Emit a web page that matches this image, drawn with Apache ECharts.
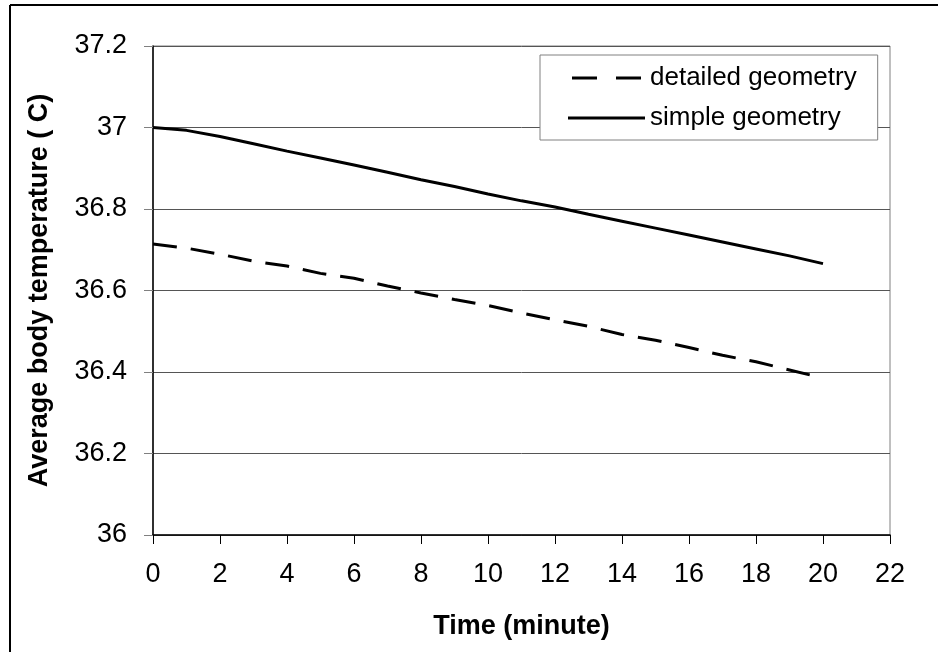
<!DOCTYPE html>
<html>
<head>
<meta charset="utf-8">
<script src="https://cdn.jsdelivr.net/npm/echarts@6/dist/echarts.min.js"></script>
<style>
    html, body { margin: 0; padding: 0; background: #fff; }
    #chartLine { width: 938px; height: 652px; }
</style>
</head>
<body>
<div id="chartLine"></div>
<script>
    // minutes
    var time = [0, 1, 2, 3, 4, 5, 6, 7, 8, 9, 10, 11, 12, 13, 14, 15, 16, 17, 18, 19, 20]
    var detailed = [36.714, 36.704, 36.689, 36.672, 36.66, 36.642, 36.63, 36.611, 36.594, 36.578, 36.563,
        36.545, 36.528, 36.512, 36.492, 36.478, 36.46, 36.441, 36.425, 36.405, 36.385]
    var simple = [37.0, 36.993, 36.978, 36.96, 36.942, 36.925, 36.908, 36.89, 36.872, 36.855, 36.837,
        36.82, 36.805, 36.787, 36.77, 36.753, 36.736, 36.719, 36.702, 36.685, 36.666]
    var seriesNames = ['detailed geometry', 'simple geometry']

    function pairs(ys) {
        var out = []
        for (var i in time) {
            out.push([time[i], ys[i]])
        }
        return out
    }

    var font = 'Liberation Sans, Arial, sans-serif'
    var chartLine = echarts.init(document.getElementById('chartLine'))
    chartLine.setOption({
        animation: false,
        backgroundColor: '#fff',
        textStyle: { fontFamily: font },
        graphic: [
            { type: 'line', shape: { x1: 10, y1: 5, x2: 938, y2: 5 }, style: { stroke: '#000', lineWidth: 2 } },
            { type: 'line', shape: { x1: 10, y1: 5, x2: 10, y2: 652 }, style: { stroke: '#000', lineWidth: 2 } }
        ],
        grid: {
            left: 153,
            right: 48,
            top: 46,
            bottom: 117,
            show: true,
            borderColor: '#808080',
            borderWidth: 1
        },
        legend: {
            data: [
                { name: seriesNames[0], icon: 'path://M0,0H25V3H0Z M44,0H69V3H44Z' },
                { name: seriesNames[1], icon: 'path://M0,0H77V3H0Z' }
            ],
            orient: 'vertical',
            left: 540,
            top: 55,
            padding: [10, 21, 9, 28],
            itemWidth: 77,
            itemHeight: 3,
            itemGap: 14,
            backgroundColor: '#fff',
            borderColor: '#808080',
            borderWidth: 1,
            itemStyle: { color: '#000' },
            textStyle: { fontFamily: font, fontSize: 26, color: '#000' }
        },
        xAxis: {
            type: 'value',
            min: 0,
            max: 22,
            interval: 2,
            name: 'Time (minute)',
            nameLocation: 'middle',
            nameGap: 78,
            nameTextStyle: { fontFamily: font, fontSize: 27, fontWeight: 'bold', color: '#000' },
            axisLine: { onZero: false, lineStyle: { color: '#000', width: 1.5 } },
            axisTick: { show: true, inside: false, length: 9, lineStyle: { color: '#000' } },
            axisLabel: { margin: 26, fontSize: 27, color: '#000', fontFamily: font },
            splitLine: { show: false }
        },
        yAxis: {
            type: 'value',
            min: 36,
            max: 37.2,
            interval: 0.2,
            name: 'Average body temperature ( C)',
            nameLocation: 'middle',
            nameGap: 100,
            nameTextStyle: { fontFamily: font, fontSize: 27, fontWeight: 'bold', color: '#000' },
            axisLine: { show: true, lineStyle: { color: '#000', width: 1.5 } },
            axisTick: { show: true, inside: false, length: 9, lineStyle: { color: '#808080' } },
            axisLabel: {
                margin: 26, fontSize: 27, color: '#000', fontFamily: font,
                formatter: function (v) { return String(Math.round(v * 10) / 10) }
            },
            splitLine: { show: true, lineStyle: { color: '#555', width: 1 } }
        },
        series: [
            {
                name: seriesNames[0],
                type: 'line',
                symbol: 'none',
                data: pairs(detailed),
                lineStyle: { color: '#000', width: 3, type: [24, 14] },
                itemStyle: { color: '#000' }
            },
            {
                name: seriesNames[1],
                type: 'line',
                symbol: 'none',
                data: pairs(simple),
                lineStyle: { color: '#000', width: 3, type: 'solid' },
                itemStyle: { color: '#000' }
            }
        ]
    })
</script>
</body>
</html>
